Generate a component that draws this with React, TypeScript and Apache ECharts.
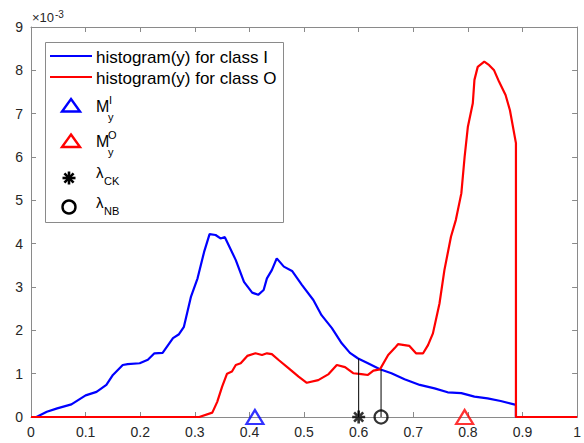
import React, { useEffect, useRef } from "react";
import * as echarts from "echarts";

// Histogram of y for class I (blue), values in units of 1e-3
const blueX = [0, 0.01, 0.029, 0.048, 0.074, 0.1, 0.12, 0.138, 0.15, 0.168, 0.177, 0.199, 0.214, 0.226, 0.241, 0.26, 0.271, 0.28, 0.293, 0.305, 0.317, 0.327, 0.338, 0.347, 0.355, 0.375, 0.39, 0.405, 0.416, 0.426, 0.432, 0.441, 0.45, 0.463, 0.478, 0.496, 0.517, 0.532, 0.551, 0.569, 0.584, 0.599, 0.617, 0.639, 0.66, 0.684, 0.712, 0.739, 0.763, 0.788, 0.812, 0.836, 0.86, 0.888, 0.888, 1];
const blueY = [0, 0, 0.12, 0.2, 0.29, 0.5, 0.58, 0.74, 0.97, 1.2, 1.22, 1.24, 1.32, 1.47, 1.48, 1.82, 1.91, 2.08, 2.78, 3.2, 3.81, 4.22, 4.2, 4.12, 4.15, 3.62, 3.12, 2.87, 2.82, 2.93, 3.2, 3.39, 3.66, 3.47, 3.37, 3.05, 2.7, 2.35, 2.05, 1.7, 1.48, 1.35, 1.24, 1.1, 1.01, 0.87, 0.74, 0.66, 0.57, 0.55, 0.47, 0.43, 0.37, 0.28, 0, 0];

// Histogram of y for class O (red)
const redX = [0, 0.308, 0.332, 0.341, 0.35, 0.359, 0.368, 0.375, 0.384, 0.396, 0.411, 0.423, 0.432, 0.441, 0.454, 0.472, 0.49, 0.505, 0.526, 0.545, 0.56, 0.575, 0.59, 0.605, 0.617, 0.627, 0.639, 0.654, 0.666, 0.672, 0.684, 0.693, 0.705, 0.718, 0.727, 0.736, 0.748, 0.757, 0.769, 0.778, 0.788, 0.794, 0.8, 0.809, 0.812, 0.818, 0.83, 0.839, 0.848, 0.857, 0.869, 0.877, 0.888, 0.888, 1];
const redY = [0, 0, 0.1, 0.35, 0.7, 1.0, 1.05, 1.2, 1.24, 1.41, 1.47, 1.43, 1.47, 1.45, 1.31, 1.12, 0.93, 0.79, 0.85, 0.99, 1.2, 1.15, 1.01, 0.99, 0.97, 1.07, 1.1, 1.43, 1.59, 1.68, 1.66, 1.64, 1.47, 1.47, 1.66, 1.93, 2.62, 3.39, 4.16, 4.55, 5.16, 6.0, 6.7, 7.24, 7.78, 8.08, 8.2, 8.12, 8.0, 7.74, 7.43, 7.08, 6.32, 0, 0];

// Markers
const meanI = 0.41;
const meanO = 0.794;
const lambdaCK = 0.6;
const lambdaCKHeight = 1.35;
const lambdaNB = 0.641;
const lambdaNBHeight = 1.1;

const xTicks = [0, 0.1, 0.2, 0.3, 0.4, 0.5, 0.6, 0.7, 0.8, 0.9, 1];
const yTicks = [0, 1, 2, 3, 4, 5, 6, 7, 8, 9];

const legendLabels = ["histogram(y) for class I", "histogram(y) for class O"];

const AX = "#262626";
const BOX = "#8a8a8a";
const FONT = "Liberation Sans, Arial, sans-serif";

const asterisk = "path://M5,0L5,10M0,5L10,5M1.5,1.5L8.5,8.5M1.5,8.5L8.5,1.5";

export default function App() {
  const ref = useRef<HTMLDivElement>(null);
  useEffect(() => {
    if (!ref.current) return;
    const chart = echarts.init(ref.current, undefined, { renderer: "svg" });
    const pairs = (xs: number[], ys: number[]) => xs.map((x, i) => [x, ys[i]]);
    const fmtX = (v: number) => String(parseFloat(v.toFixed(2)));
    const axisCommon = {
      type: "value" as const,
      axisLine: { show: true, onZero: false, lineStyle: { color: BOX, width: 1 } },
      axisTick: { show: true, inside: true, length: 5, lineStyle: { color: BOX } },
      splitLine: { show: false },
    };
    const legendX = 96;
    const LZ = 101;
    const star = (cx: number, cy: number, r: number) => {
      const els: any[] = [];
      for (let k = 0; k < 4; k++) {
        const a = (k * Math.PI) / 4;
        els.push({
          type: "line",
          z: LZ,
          shape: { x1: cx - r * Math.cos(a), y1: cy - r * Math.sin(a), x2: cx + r * Math.cos(a), y2: cy + r * Math.sin(a) },
          style: { stroke: "#000", lineWidth: 2.6 },
        });
      }
      return els;
    };
    const txt = (text: string, x: number, y: number, size: number) => ({
      type: "text",
      z: LZ,
      x,
      y,
      style: { text, font: `${size}px ${FONT}`, fill: "#000", textAlign: "left", textVerticalAlign: "middle", verticalAlign: "middle" },
    });
    chart.setOption({
      animation: false,
      grid: { left: 31, right: 4, top: 27, bottom: 26, containLabel: false },
      xAxis: [
        {
          ...axisCommon,
          position: "bottom",
          min: 0,
          max: 1,
          interval: 0.1,
          axisLabel: { color: AX, fontSize: 14, fontFamily: FONT, margin: 8, formatter: fmtX, customValues: xTicks },
        },
        {
          ...axisCommon,
          position: "top",
          min: 0,
          max: 1,
          interval: 0.1,
          axisLabel: { show: false },
        },
      ],
      yAxis: [
        {
          ...axisCommon,
          position: "left",
          min: 0,
          max: 9,
          interval: 1,
          axisLabel: { color: AX, fontSize: 14, fontFamily: FONT, margin: 8, customValues: yTicks },
        },
        {
          ...axisCommon,
          position: "right",
          min: 0,
          max: 9,
          interval: 1,
          axisLabel: { show: false },
        },
      ],
      series: [
        {
          type: "line",
          data: pairs(blueX, blueY),
          showSymbol: false,
          symbol: "none",
          lineStyle: { color: "#0000ff", width: 2.2 },
          z: 2,
        },
        {
          type: "line",
          data: pairs(redX, redY),
          showSymbol: false,
          symbol: "none",
          lineStyle: { color: "#ff0000", width: 2.2 },
          z: 3,
        },
        {
          type: "line",
          data: [[lambdaCK, 0], [lambdaCK, lambdaCKHeight]],
          symbol: "none",
          lineStyle: { color: "#000", width: 1 },
          z: 4,
        },
        {
          type: "line",
          data: [[lambdaNB, 0], [lambdaNB, lambdaNBHeight]],
          symbol: "none",
          lineStyle: { color: "#000", width: 1 },
          z: 4,
        },
        {
          type: "scatter",
          data: [[meanI, 0]],
          symbol: "triangle",
          symbolSize: [17, 14],
          clip: false,
          itemStyle: { color: "rgba(0,0,0,0)", borderColor: "#0000ff", borderWidth: 2.2 },
          z: 5,
        },
        {
          type: "scatter",
          data: [[meanO, 0]],
          symbol: "triangle",
          symbolSize: [17, 14],
          clip: false,
          itemStyle: { color: "rgba(0,0,0,0)", borderColor: "#ff0000", borderWidth: 2.2 },
          z: 5,
        },
        {
          type: "scatter",
          data: [[lambdaCK, 0]],
          symbol: asterisk,
          symbolSize: 13,
          clip: false,
          itemStyle: { color: "rgba(0,0,0,0)", borderColor: "#000", borderWidth: 2.6 },
          z: 5,
        },
        {
          type: "scatter",
          data: [[lambdaNB, 0]],
          symbol: "circle",
          symbolSize: 13,
          clip: false,
          itemStyle: { color: "rgba(0,0,0,0)", borderColor: "#000", borderWidth: 2.2 },
          z: 5,
        },
      ],
      graphic: [
        {
          type: "text",
          x: 32,
          y: 24,
          style: { text: "×10", font: `13px ${FONT}`, fill: AX, textAlign: "left", textVerticalAlign: "bottom", verticalAlign: "bottom" },
        },
        {
          type: "text",
          x: 55,
          y: 19,
          style: { text: "-3", font: `10px ${FONT}`, fill: AX, textAlign: "left", textVerticalAlign: "bottom", verticalAlign: "bottom" },
        },
        {
          type: "rect",
          z: 100,
          shape: { x: 45.5, y: 42.5, width: 238, height: 180 },
          style: { fill: "#fff", stroke: BOX, lineWidth: 1 },
        },
        { type: "line", z: LZ, shape: { x1: 50, y1: 56, x2: 92, y2: 56 }, style: { stroke: "#0000ff", lineWidth: 2.2 } },
        txt(legendLabels[0], legendX, 57, 17),
        { type: "line", z: LZ, shape: { x1: 50, y1: 77, x2: 92, y2: 77 }, style: { stroke: "#ff0000", lineWidth: 2.2 } },
        txt(legendLabels[1], legendX, 78, 17),
        {
          type: "polygon",
          z: LZ,
          shape: { points: [[71, 99], [80, 111.5], [62, 111.5]] },
          style: { fill: "none", stroke: "#0000ff", lineWidth: 2.4 },
        },
        txt("M", legendX, 106, 16),
        txt("I", 109, 100, 11),
        txt("y", 108, 117, 11),
        {
          type: "polygon",
          z: LZ,
          shape: { points: [[71, 134.5], [80, 147], [62, 147]] },
          style: { fill: "none", stroke: "#ff0000", lineWidth: 2.4 },
        },
        txt("M", legendX, 141, 16),
        txt("O", 108, 135, 11),
        txt("y", 108, 152, 11),
        ...star(69, 178, 6.5),
        txt("λ", legendX, 172, 15),
        txt("CK", 104, 181, 11),
        { type: "circle", z: LZ, shape: { cx: 69, cy: 207, r: 6.5 }, style: { fill: "none", stroke: "#000", lineWidth: 2.4 } },
        txt("λ", legendX, 202, 15),
        txt("NB", 104, 211, 11),
      ],
    });
    return () => chart.dispose();
  }, []);
  return <div ref={ref} style={{ position: "absolute", left: 0, top: 0, width: 584, height: 443 }} />;
}
